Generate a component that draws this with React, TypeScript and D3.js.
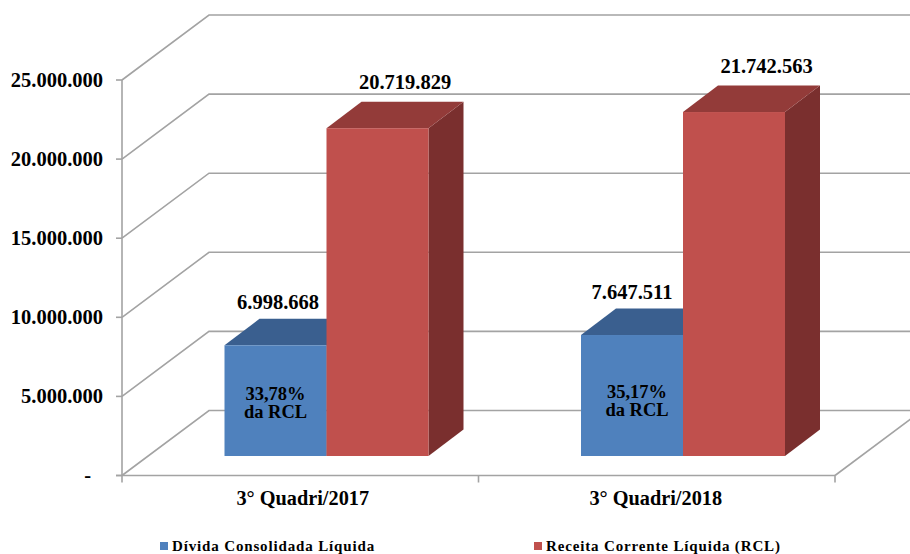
import React from "react";
import * as d3 from "d3";

const categories = ["3° Quadri/2017", "3° Quadri/2018"];
const divida = [6998668, 7647511];
const receita = [20719829, 21742563];
const dividaLabels = ["6.998.668", "7.647.511"];
const receitaLabels = ["20.719.829", "21.742.563"];
const shareLines = [["33,78%", "da RCL"], ["35,17%", "da RCL"]];
const yTicks = [0, 5000000, 10000000, 15000000, 20000000, 25000000];
const yTickLabels = ["-", "5.000.000", "10.000.000", "15.000.000", "20.000.000", "25.000.000"];
const legendNames = ["Dívida Consolidada Líquida", "Receita Corrente Líquida (RCL)"];

const W = 910, H = 554;
const FONT = "'Liberation Serif', serif";
const GRID = "#a3a3a3";
const y = d3.scaleLinear().domain([0, 25000000]).range([475.5, 80]);
const x = d3.scaleBand<string>().domain(categories).range([122, 835]);
const DX = 87, DY = -65;       // wall depth
const BDX = 35, BDY = -26.5;   // bar depth
const FY = -19.5;              // bar offset in the floor
const BW = 102;
const BAR_INSET = 102.5;

const colors = {
  blue: { front: "#4f81bd", top: "#3a5f8f", side: "#2f4d75" },
  red: { front: "#c0504d", top: "#933b39", side: "#7a2f2e" },
};

function Bar({ x0, v, c }: { x0: number; v: number; c: typeof colors.blue }) {
  const base = y(0) + FY;
  const top = base - (y(0) - y(v));
  const x1 = x0 + BW;
  const pts = (a: number[][]) => a.map((p) => p.join(",")).join(" ");
  return (
    <g>
      <polygon fill={c.side} points={pts([[x1, top], [x1 + BDX, top + BDY], [x1 + BDX, base + BDY], [x1, base]])} />
      <polygon fill={c.top} points={pts([[x0, top], [x0 + BDX, top + BDY], [x1 + BDX, top + BDY], [x1, top]])} />
      <rect x={x0} y={top} width={BW} height={base - top} fill={c.front} />
    </g>
  );
}

export default function App() {
  const barStart = (i: number) => x(categories[i])! + BAR_INSET;
  return (
    <svg width={W} height={H} viewBox={`0 0 ${W} ${H}`}
      style={{ position: "absolute", left: 0, top: 0, background: "#fff" }} fontFamily={FONT} fontWeight="bold" fill="#000">
      {yTicks.map((t) => (
        <g key={t} stroke={GRID} strokeWidth={1.6} fill="none">
          <path d={`M${122},${y(t)} L${122 + DX},${y(t) + DY} L${835 + DX},${y(t) + DY}`} />
          <line x1={116} x2={122} y1={y(t)} y2={y(t)} />
        </g>
      ))}
      <g stroke={GRID} strokeWidth={1.6} fill="none">
        <line x1={122} x2={122} y1={y(25000000)} y2={y(0) + 7} />
        <line x1={116} x2={835} y1={y(0)} y2={y(0)} />
        <line x1={835} x2={835 + DX} y1={y(0)} y2={y(0) + DY} />
        <line x1={x(categories[1])} x2={x(categories[1])} y1={y(0)} y2={y(0) + 7} />
        <line x1={835} x2={835} y1={y(0)} y2={y(0) + 7} />
      </g>
      {yTicks.map((t, i) => (
        <text key={t} x={t === 0 ? 91 : 103} y={y(t) + 6.5} textAnchor="end" fontSize={20.5}>{yTickLabels[i]}</text>
      ))}
      {categories.map((c, i) => {
        const s = barStart(i);
        const topB = y(divida[i]) + FY;
        const topR = y(receita[i]) + FY;
        const shareX = s + (i === 0 ? 51 : 56);
        return (
          <g key={c}>
            <Bar x0={s} v={divida[i]} c={colors.blue} />
            <Bar x0={s + BW} v={receita[i]} c={colors.red} />
            <text x={s + (i === 0 ? 53.5 : 51)} y={topB - 36} textAnchor="middle" fontSize={20.5}>{dividaLabels[i]}</text>
            <text x={s + BW + (i === 0 ? 78.5 : 83.5)} y={topR - 39} textAnchor="middle" fontSize={20.5}>{receitaLabels[i]}</text>
            <text x={shareX} y={400 - i * 2} textAnchor="middle" fontSize={18.5}>{shareLines[i][0]}</text>
            <text x={shareX} y={418 - i * 2} textAnchor="middle" fontSize={18.5}>{shareLines[i][1]}</text>
            <text x={x(c)! + x.bandwidth() / 2 + (i === 0 ? 2.5 : -1)} y={505} textAnchor="middle" fontSize={20.3}>{c}</text>
          </g>
        );
      })}
      {legendNames.map((n, i) => {
        const lx = [160, 534][i];
        return (
          <g key={n}>
            <rect x={lx} y={542} width={8} height={8} fill={i === 0 ? colors.blue.front : colors.red.front} />
            <text x={lx + 12} y={551} fontSize={15} letterSpacing={0.85}>{n}</text>
          </g>
        );
      })}
    </svg>
  );
}
